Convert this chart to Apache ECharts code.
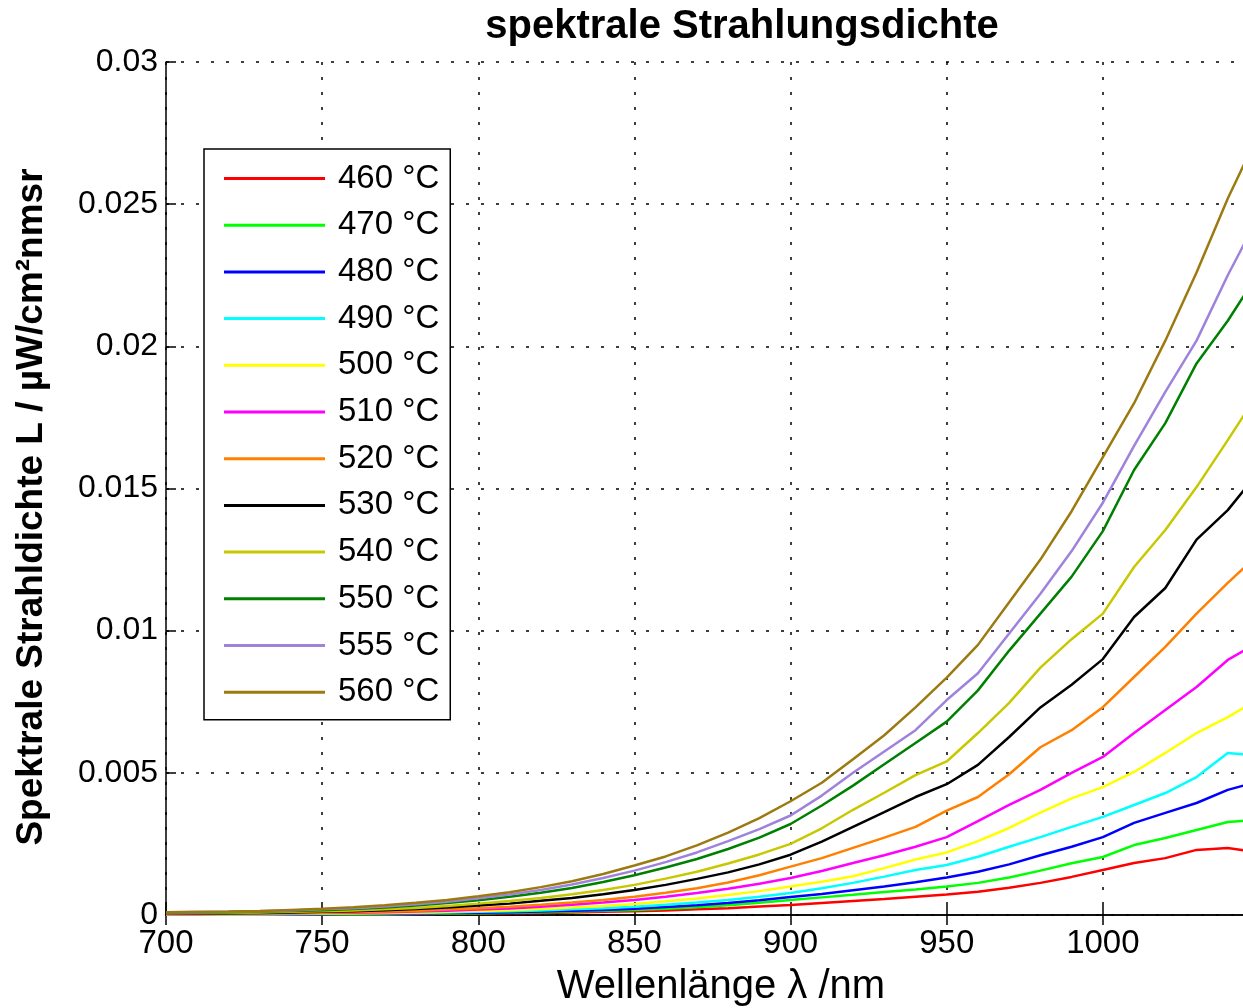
<!DOCTYPE html>
<html><head><meta charset="utf-8">
<script src="https://cdn.jsdelivr.net/npm/echarts@6/dist/echarts.min.js"></script>
<style>html,body{margin:0;padding:0;background:#fff;overflow:hidden;width:1243px;height:1008px}#c{width:1290px;height:1008px}</style>
</head><body><div id="c"></div>
<script>
const wavelengths = [700,710,720,730,740,750,760,770,780,790,800,810,820,830,840,850,860,870,880,890,900,910,920,930,940,950,960,970,980,990,1000,1010,1020,1030,1040,1050];
const seriesNames = ['460 °C','470 °C','480 °C','490 °C','500 °C','510 °C','520 °C','530 °C','540 °C','550 °C','555 °C','560 °C'];
const seriesColors = ['#ff0000','#00ff00','#0000ff','#00ffff','#ffff00','#ff00ff','#ff8000','#000000','#c8c800','#008000','#9f82dc','#9c7a10'];
const s460 = [0.00001,0.00001,0.00001,0.00001,0.00001,0.00002,0.00002,0.00002,0.00003,0.00004,0.00005,0.00006,0.00007,0.00009,0.00011,0.00013,0.00016,0.0002,0.00024,0.0003,0.00035,0.00042,0.00049,0.00056,0.00064,0.00072,0.00082,0.00096,0.00113,0.00134,0.00158,0.00183,0.002,0.00229,0.00236,0.0022];
const s470 = [0.00001,0.00001,0.00001,0.00001,0.00002,0.00002,0.00003,0.00003,0.00004,0.00005,0.00006,0.00008,0.0001,0.00012,0.00015,0.00018,0.00022,0.00027,0.00034,0.00043,0.00053,0.00062,0.00071,0.00081,0.0009,0.001,0.00113,0.00132,0.00156,0.00182,0.00204,0.00246,0.00271,0.00299,0.00327,0.00335];
const s480 = [0.00001,0.00001,0.00002,0.00002,0.00002,0.00003,0.00004,0.00004,0.00005,0.00007,0.00008,0.0001,0.00012,0.00015,0.00018,0.00022,0.00028,0.00034,0.00042,0.00052,0.00063,0.00074,0.00087,0.001,0.00115,0.00132,0.00152,0.00178,0.0021,0.0024,0.00274,0.00324,0.00359,0.00394,0.0044,0.0047];
const s490 = [0.00002,0.00002,0.00002,0.00003,0.00003,0.00004,0.00005,0.00006,0.00007,0.00009,0.00011,0.00013,0.00016,0.0002,0.00024,0.00029,0.00036,0.00044,0.00053,0.00064,0.00077,0.00094,0.00113,0.00135,0.00158,0.00176,0.00205,0.0024,0.00274,0.0031,0.00345,0.00387,0.00429,0.00485,0.0057,0.0056];
const s500 = [0.00002,0.00002,0.00003,0.00003,0.00004,0.00005,0.00006,0.00007,0.00009,0.00011,0.00014,0.00017,0.00021,0.00026,0.00032,0.00039,0.00048,0.00058,0.0007,0.00084,0.001,0.00117,0.00136,0.00165,0.00195,0.0022,0.0026,0.00306,0.0036,0.0041,0.0045,0.00503,0.0057,0.0064,0.00696,0.0076];
const s510 = [0.00003,0.00003,0.00004,0.00005,0.00006,0.00007,0.00008,0.0001,0.00012,0.00015,0.00019,0.00023,0.00029,0.00036,0.00044,0.00053,0.00064,0.00077,0.00092,0.0011,0.0013,0.00155,0.00183,0.0021,0.0024,0.00274,0.0033,0.00387,0.0044,0.005,0.00556,0.0064,0.00721,0.00802,0.00897,0.0096];
const s520 = [0.00004,0.00004,0.00005,0.00006,0.00007,0.00008,0.0001,0.00012,0.00015,0.00019,0.00024,0.00029,0.00036,0.00044,0.00053,0.00064,0.00078,0.00094,0.00114,0.0014,0.0017,0.002,0.00236,0.00272,0.0031,0.00367,0.00415,0.00495,0.0059,0.0065,0.00731,0.00837,0.00943,0.0106,0.01168,0.0127];
const s530 = [0.00005,0.00005,0.00006,0.00007,0.00009,0.00011,0.00013,0.00017,0.00021,0.00026,0.00033,0.0004,0.0005,0.0006,0.00073,0.00088,0.00106,0.00127,0.0015,0.00178,0.00212,0.00258,0.0031,0.00362,0.00415,0.0046,0.00528,0.00626,0.0073,0.0081,0.009,0.01048,0.0115,0.0132,0.01424,0.0156];
const s540 = [0.00006,0.00007,0.00008,0.00009,0.00011,0.00013,0.00016,0.0002,0.00025,0.00032,0.0004,0.00049,0.0006,0.00073,0.00088,0.00106,0.00128,0.00152,0.00181,0.00213,0.0025,0.00305,0.0037,0.0043,0.00492,0.0054,0.0064,0.00746,0.0087,0.0097,0.0106,0.01224,0.01354,0.01505,0.0167,0.0184];
const s550 = [0.00008,0.00009,0.0001,0.00012,0.00014,0.00017,0.00021,0.00026,0.00033,0.00042,0.00052,0.00064,0.00078,0.00095,0.00116,0.0014,0.00167,0.00197,0.00232,0.00272,0.0032,0.00385,0.00455,0.0053,0.00605,0.0068,0.0079,0.0093,0.0106,0.0119,0.0135,0.01565,0.0173,0.0194,0.0209,0.0226];
const s555 = [0.0001,0.0001,0.00011,0.00013,0.00016,0.0002,0.00024,0.0003,0.00038,0.00047,0.00059,0.00072,0.00088,0.00107,0.0013,0.00156,0.00186,0.0022,0.0026,0.00302,0.0035,0.0042,0.005,0.00575,0.0065,0.00756,0.0085,0.0099,0.0113,0.0128,0.0145,0.0165,0.0184,0.0202,0.0225,0.0246];
const s560 = [0.0001,0.00011,0.00012,0.00014,0.00018,0.00022,0.00027,0.00034,0.00043,0.00053,0.00066,0.0008,0.00098,0.00119,0.00144,0.00174,0.00206,0.00245,0.0029,0.00341,0.004,0.00465,0.00548,0.00632,0.0073,0.00835,0.0095,0.011,0.0125,0.0142,0.0161,0.018,0.0202,0.0226,0.0252,0.0275];
const allSeries = [s460,s470,s480,s490,s500,s510,s520,s530,s540,s550,s555,s560];

const FONT = "'Liberation Sans', Arial, sans-serif";
const chart = echarts.init(document.getElementById('c'), null, {renderer:'canvas'});
const gridLine = {show:true, lineStyle:{color:'#000', width:1.5, type:[3,12]}};
chart.setOption({
  backgroundColor:'#fff',
  animation:false,
  title:{text:'spektrale Strahlungsdichte', left:737, top:2, textAlign:'center',
    textStyle:{fontFamily:FONT, fontSize:40, fontWeight:'bold', color:'#000'}},
  grid:{left:166, top:62, width:1093, height:853, containLabel:false},
  legend:{orient:'vertical', left:204, top:149, icon:'rect', itemWidth:101, itemHeight:3, itemGap:13.7,
    padding:[13,11,11,20], borderColor:'#000', borderWidth:1.5, backgroundColor:'#fff',
    textStyle:{fontFamily:FONT, fontSize:33, lineHeight:33, color:'#000', padding:[0,0,0,8]},
    data:seriesNames},
  xAxis:[{type:'value', min:700, max:1050, interval:50,
    axisLine:{show:true, onZero:false, lineStyle:{color:'#000', width:1.5}},
    axisTick:{show:true, inside:true, length:10, lineStyle:{color:'#000', width:1.5}},
    axisLabel:{fontFamily:FONT, fontSize:33, color:'#000', margin:12, showMaxLabel:false,
      formatter:v=>String(v)},
    splitLine:gridLine},
    {type:'value', position:'top', min:700, max:1050, interval:50,
    axisLine:{show:true, lineStyle:{color:'#000', width:1.5}},
    axisTick:{show:true, inside:true, length:10, lineStyle:{color:'#000', width:1.5}},
    axisLabel:{show:false}, splitLine:{show:false}}],
  yAxis:{type:'value', min:0, max:0.03, interval:0.005,
    axisLine:{show:true, lineStyle:{color:'#000', width:1.5}},
    axisTick:{show:true, inside:true, length:10, lineStyle:{color:'#000', width:1.5}},
    axisLabel:{fontFamily:FONT, fontSize:32, color:'#000', margin:8,
      formatter:v=>String(parseFloat(v.toFixed(4)))},
    splitLine:gridLine},
  graphic:[
    {type:'text', x:32, y:507, rotation:Math.PI/2,
      style:{text:'Spektrale Strahldichte L / µW/cm²nmsr', fontFamily:FONT, fontSize:37, fontWeight:'bold', fill:'#000', align:'center', verticalAlign:'middle'}},
    {type:'text', x:721, y:987,
      style:{text:'Wellenlänge λ /nm', fontFamily:FONT, fontSize:40, fill:'#000', align:'center', verticalAlign:'middle'}}
  ],
  series: allSeries.map((vals,i)=>({
    name:seriesNames[i], type:'line', xAxisIndex:0, showSymbol:false, symbol:'none',
    color:seriesColors[i], lineStyle:{width:2.5, color:seriesColors[i]},
    data: wavelengths.map((w,j)=>[w, vals[j]])
  }))
});
</script></body></html>
